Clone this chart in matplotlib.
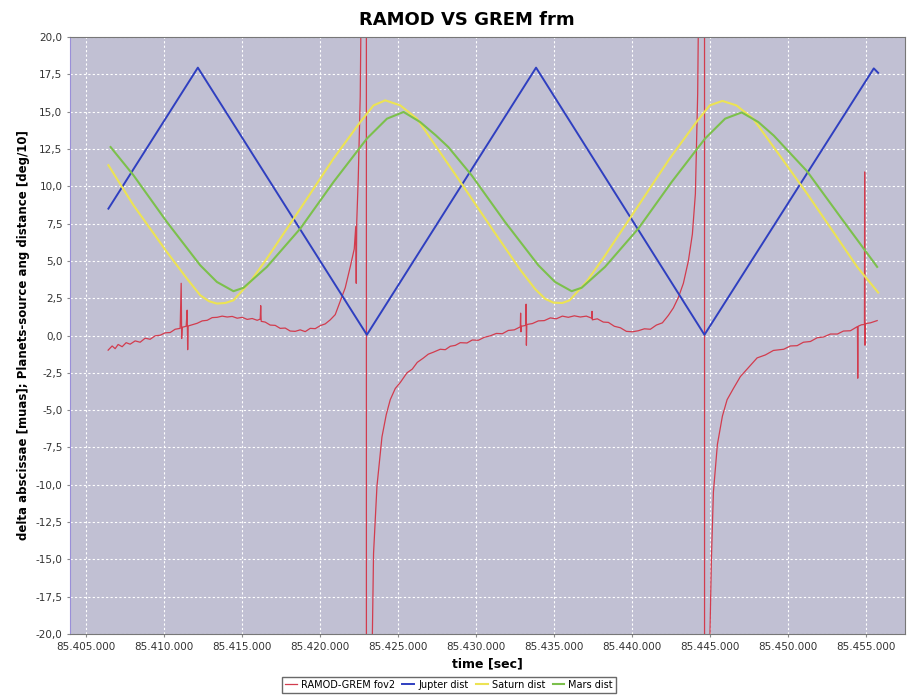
import matplotlib
matplotlib.use("Agg")
import matplotlib.pyplot as plt
from matplotlib.ticker import FuncFormatter, MultipleLocator

# Jupiter distance (deg/10)
t_jup = [85406460, 85412190, 85423020, 85433860, 85444650, 85455500, 85455780]
v_jup = [8.5, 17.95, 0.05, 17.95, 0.05, 17.9, 17.6]

# Saturn distance
t_sat = [85406461, 85408064, 85410205, 85411487, 85412339, 85412900, 85413410, 85413950,
         85414474, 85415544, 85416615, 85418757, 85420884, 85422595, 85423448, 85424198,
         85425159, 85426230,
         85429005, 85431140, 85432851, 85433813, 85434454, 85434986, 85435544, 85436012,
         85437082, 85438153, 85440287, 85442422, 85444133, 85444986, 85445800, 85446698,
         85447768, 85449517, 85451229, 85452934, 85454434, 85455780]
v_sat = [11.41, 8.73, 5.6, 3.82, 2.7, 2.3, 2.14, 2.18, 2.36, 3.59, 5.16, 8.5, 11.86, 14.3,
         15.42, 15.76, 15.42, 14.53,
         10.3, 7.0, 4.4, 3.1, 2.45, 2.2, 2.18, 2.36, 3.59, 5.16, 8.5, 11.86, 14.3, 15.42,
         15.72, 15.42, 14.53, 12.0, 9.5, 6.9, 4.6, 2.88]

# Mars distance
t_mar = [85406598, 85408064, 85410205, 85412339, 85413410, 85414474, 85415115, 85416615,
         85418757, 85420884, 85423025, 85424307, 85425371, 85426442,
         85427451, 85428237, 85429729, 85431871, 85434005, 85435076, 85436140, 85436781,
         85438281, 85440415, 85442550, 85444691, 85445973, 85447037, 85448107, 85449088,
         85451229, 85453363, 85455716]
v_mar = [12.63, 10.74, 7.61, 4.71, 3.59, 2.97, 3.2, 4.6, 7.17, 10.29, 13.2, 14.53, 14.98,
         14.3,
         13.4, 12.63, 10.74, 7.61, 4.71, 3.59, 2.97, 3.2, 4.6, 7.17, 10.29, 13.2, 14.53,
         14.95, 14.3, 13.4, 11.0, 7.94, 4.6]

# RAMOD-GREM fov2 (muas)
t_ram = [85406442, 85406699, 85406891, 85407083, 85407340, 85407596, 85407852, 85408173,
         85408493, 85408814, 85409134, 85409455, 85409775, 85410096, 85410416, 85410737,
         85411057, 85411122, 85411154, 85411186, 85411442, 85411506, 85411538, 85411570,
         85411827, 85412147, 85412468, 85412788, 85413109, 85413429, 85413750, 85414070,
         85414391, 85414711, 85415032, 85415352, 85415673, 85415993, 85416185, 85416218,
         85416250, 85416506, 85416826, 85417147, 85417467, 85417788, 85418108, 85418429,
         85418749, 85419070, 85419390, 85419711, 85420031, 85420352, 85420672, 85420993,
         85421313, 85421634, 85421954, 85422211, 85422307, 85422339, 85422371, 85422467,
         85422595, 85422724, 85422980, 85422999, 85423345,
         85423448, 85423666, 85423986, 85424262, 85424518, 85424839, 85425159, 85425589,
         85425929, 85426249, 85426653, 85426954, 85427275, 85427723, 85428044, 85428364,
         85428685, 85429005, 85429435, 85429775, 85430159, 85430544, 85430928, 85431313,
         85431698, 85432082, 85432467, 85432851, 85432871, 85432890, 85432916, 85433204,
         85433223, 85433242, 85433268, 85433621, 85434005, 85434390, 85434774, 85435159,
         85435544, 85435928, 85436313, 85436697, 85437082, 85437435, 85437447, 85437467,
         85437787, 85438172, 85438492, 85438877, 85439261, 85439646, 85440031, 85440415,
         85440800, 85441184, 85441569, 85441954, 85442338, 85442659, 85442979, 85443300,
         85443620, 85443877, 85444069, 85444216, 85444345, 85444646, 85444665, 85444966,
         85445095, 85445223, 85445479, 85445800, 85446101, 85446505, 85446953, 85447466,
         85448024, 85448556, 85449069, 85449729, 85450158, 85450588, 85450992, 85451440,
         85451870, 85452274, 85452722, 85453171, 85453556, 85454004, 85454453, 85454472,
         85454492, 85454710, 85454902, 85454915, 85454934, 85454953, 85455286, 85455716]
v_ram = [-0.98, -0.70, -0.88, -0.60, -0.75, -0.48, -0.58, -0.36, -0.45, -0.18, -0.25,
         -0.02, 0.02, 0.18, 0.20, 0.42, 0.48, 3.50, -0.20, 0.55, 0.62, 1.70, -0.95, 0.64,
         0.72, 0.82, 0.98, 1.02, 1.20, 1.22, 1.30, 1.24, 1.28, 1.16, 1.22, 1.08, 1.14,
         1.02, 1.10, 2.00, 0.95, 0.90, 0.70, 0.68, 0.48, 0.50, 0.30, 0.28, 0.38, 0.26,
         0.48, 0.46, 0.66, 0.78, 1.05, 1.40, 2.30, 3.20, 4.60, 5.80, 7.30, 3.50, 7.60,
         10.5, 16.0, 30.0, 300.0, -300.0, -22.0,
         -14.6, -10.1, -6.8, -5.3, -4.3, -3.55, -3.15, -2.5, -2.25, -1.8, -1.5, -1.25,
         -1.12, -0.92, -0.95, -0.72, -0.66, -0.48, -0.5, -0.3, -0.32, -0.12, -0.02, 0.14,
         0.12, 0.34, 0.38, 0.58, 1.5, 0.25, 0.62, 0.68, 2.1, -0.65, 0.74, 0.8, 0.98, 1.0,
         1.18, 1.12, 1.3, 1.22, 1.32, 1.24, 1.3, 1.16, 1.62, 1.05, 1.12, 0.9, 0.88, 0.62,
         0.52, 0.28, 0.25, 0.32, 0.45, 0.42, 0.7, 0.85, 1.35, 1.85, 2.55, 3.5, 5.0, 6.8,
         9.5, 16.2, 30.0, 300.0, -300.0, -22.0,
         -15.0, -10.5, -7.3, -5.4, -4.3, -3.55, -2.75, -2.15, -1.5, -1.3, -1.0, -0.92,
         -0.7, -0.68, -0.45, -0.4, -0.15, -0.1, 0.1, 0.1, 0.3, 0.32, 0.6, -2.86, 0.62,
         0.72, 0.74, 10.96, -0.65, 0.8, 0.85, 1.0]

fig = plt.figure(figsize=(9.07, 6.99), dpi=100)
ax = fig.add_axes([0.0772, 0.093, 0.9206, 0.854])
ax.set_facecolor('#c1c0d3')

ax.plot(t_ram, v_ram, color='#d23c4e', lw=0.9, label='RAMOD-GREM fov2')
ax.plot(t_jup, v_jup, color='#2f3fc0', lw=1.4, label='Jupter dist')
ax.plot(t_sat, v_sat, color='#ece354', lw=1.5, label='Saturn dist',
        solid_joinstyle='round')
ax.plot(t_mar, v_mar, color='#7cc04c', lw=1.5, label='Mars dist',
        solid_joinstyle='round')

ax.set_xlim(85404000, 85457500)
ax.set_ylim(-20, 20)
ax.xaxis.set_major_locator(MultipleLocator(5000))
ax.yaxis.set_major_locator(MultipleLocator(2.5))
ax.xaxis.set_major_formatter(FuncFormatter(lambda v, p: f"{v:,.0f}".replace(",", ".")))
ax.yaxis.set_major_formatter(FuncFormatter(lambda v, p: f"{v:.1f}".replace(".", ",")))
ax.tick_params(labelsize=7.5, labelcolor='#333333', length=2, color='#888888')
ax.grid(True, color='white', ls=(0, (2, 2)), lw=0.8)
ax.set_axisbelow(True)
for s in ax.spines.values():
    s.set_color('#777777')
    s.set_linewidth(0.8)
ax.spines['left'].set_color('#9a8fd8')

ax.set_xlabel('time [sec]', fontsize=9, fontweight='bold', labelpad=4)
ax.set_ylabel('delta abscissae [muas]; Planets-source ang distance [deg/10]',
              fontsize=8.5, fontweight='bold', labelpad=4)
fig.text(0.515, 0.972, 'RAMOD VS GREM frm', ha='center', va='center',
         fontsize=13, fontweight='bold')

fig.legend(loc='lower center', bbox_to_anchor=(0.495, 0.002), ncol=4, fontsize=7,
           frameon=True, fancybox=False, edgecolor='#444444', handlelength=1.2,
           handletextpad=0.4, columnspacing=0.8, borderpad=0.3)

fig.savefig('out.png', dpi=100)
